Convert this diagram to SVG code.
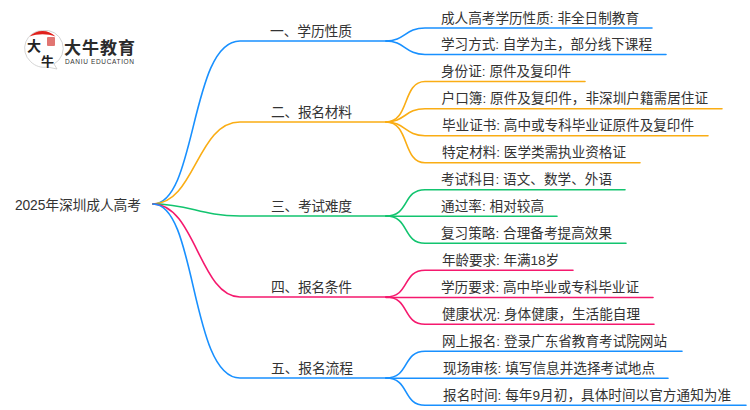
<svg xmlns="http://www.w3.org/2000/svg" width="750" height="410" viewBox="0 0 750 410">
<style>
text{font-family:"Liberation Sans","Noto Sans CJK SC",sans-serif;fill:#333}
.t{font-size:13.6px}
.b{font-size:13.8px}
.l{fill:none;stroke-width:1.600;stroke-linecap:round}
.c1{stroke:#1890ff}.c2{stroke:#faad14}.c3{stroke:#12c46f}.c4{stroke:#f5196e}
</style>
<rect width="750" height="410" fill="#fff"/>
<g id="logo">
<path d="M42.500 30.500a17.800 17.800 0 0 0-12 31c5 5 11 6.500 17 5.500l9.500 2-3-5a18 18 0 0 0-11.500-33.500z" fill="#fff" stroke="#c9c9c9" stroke-width="0.800"/>
<path d="M29.500 36.500C36 29 49 29 55.500 36.500C47 33.500 38 33.500 29.500 36.500z" fill="#e0201c"/>
<rect x="47" y="37" width="8" height="9" rx="1" fill="#d9534f" opacity="0.800"/>
<text x="27" y="51" style="font-family:'Noto Sans CJK SC',sans-serif;font-size:14px;font-weight:700;fill:#222">大</text>
<text x="41" y="66" style="font-family:'Noto Sans CJK SC',sans-serif;font-size:13px;font-weight:700;fill:#222">牛</text>
<text x="64" y="53.500" textLength="71" style="font-family:'Noto Sans CJK SC',sans-serif;font-size:17px;font-weight:700;fill:#2b2b2b">大牛教育</text>
<text x="65" y="63.500" textLength="69" style="font-size:6.500px;fill:#333">DANIU EDUCATION</text>
</g>
<g id="connectors">
<path class="l c1" d="M153 204C197 204 190 41 240 41H388"/>
<path class="l c2" d="M153 204C195 204 197 122 240 122H388"/>
<path class="l c3" d="M153 204C190 204 200 216 240 216H388"/>
<path class="l c4" d="M153 204C195 204 200 297 240 297H388"/>
<path class="l c1" d="M153 204C197 204 190 378 240 378H388"/>
<path class="l c1" d="M386 41C405 41 405 28 425 28H652"/>
<path class="l c1" d="M386 41C405 41 405 54.500 425 54.500H666"/>
<path class="l c2" d="M386 122C410 122 402 81.500 425 81.500H585"/>
<path class="l c2" d="M386 122C405 122 405 108.700 425 108.700H722"/>
<path class="l c2" d="M386 122C405 122 405 135.700 425 135.700H708"/>
<path class="l c2" d="M386 122C410 122 402 162.700 425 162.700H640"/>
<path class="l c3" d="M386 216C410 216 402 189.700 425 189.700H625"/>
<path class="l c3" d="M386 216.300H557"/>
<path class="l c3" d="M386 216C410 216 402 243.300 425 243.300H626"/>
<path class="l c4" d="M386 297C410 297 402 270.300 425 270.300H573"/>
<path class="l c4" d="M386 297.500H653"/>
<path class="l c4" d="M386 297C410 297 402 324.300 425 324.300H654"/>
<path class="l c1" d="M386 378C410 378 402 351.300 425 351.300H682"/>
<path class="l c1" d="M386 378.300H668"/>
<path class="l c1" d="M386 378C410 378 402 405.300 425 405.300H746"/>
</g>
<g id="root"><text class="b" x="15" y="209.500" textLength="126">2025年深圳成人高考</text></g>
<g id="n1"><text class="b" x="270" y="36" textLength="82">一、学历性质</text></g>
<g id="n1-1"><text class="t" x="441" y="22.500" textLength="198">成人高考学历性质: 非全日制教育</text></g>
<g id="n1-2"><text class="t" x="441" y="49" textLength="211">学习方式: 自学为主，部分线下课程</text></g>
<g id="n2"><text class="b" x="271" y="117" textLength="81">二、报名材料</text></g>
<g id="n2-1"><text class="t" x="441" y="76" textLength="130">身份证: 原件及复印件</text></g>
<g id="n2-2"><text class="t" x="441.500" y="103" textLength="266.500">户口簿: 原件及复印件，非深圳户籍需居住证</text></g>
<g id="n2-3"><text class="t" x="442" y="130" textLength="252">毕业证书: 高中或专科毕业证原件及复印件</text></g>
<g id="n2-4"><text class="t" x="442" y="157" textLength="184">特定材料: 医学类需执业资格证</text></g>
<g id="n3"><text class="b" x="271" y="211" textLength="81">三、考试难度</text></g>
<g id="n3-1"><text class="t" x="441" y="184" textLength="171">考试科目: 语文、数学、外语</text></g>
<g id="n3-2"><text class="t" x="441" y="211" textLength="103">通过率: 相对较高</text></g>
<g id="n3-3"><text class="t" x="441" y="238" textLength="171">复习策略: 合理备考提高效果</text></g>
<g id="n4"><text class="b" x="271" y="292" textLength="81">四、报名条件</text></g>
<g id="n4-1"><text class="t" x="442" y="265" textLength="117">年龄要求: 年满18岁</text></g>
<g id="n4-2"><text class="t" x="441" y="292" textLength="198">学历要求: 高中毕业或专科毕业证</text></g>
<g id="n4-3"><text class="t" x="442" y="319" textLength="198">健康状况: 身体健康，生活能自理</text></g>
<g id="n5"><text class="b" x="271" y="373" textLength="82">五、报名流程</text></g>
<g id="n5-1"><text class="t" x="442" y="346" textLength="225">网上报名: 登录广东省教育考试院网站</text></g>
<g id="n5-2"><text class="t" x="443" y="373" textLength="212">现场审核: 填写信息并选择考试地点</text></g>
<g id="n5-3"><text class="t" x="443" y="400" textLength="288">报名时间: 每年9月初，具体时间以官方通知为准</text></g>
</svg>
